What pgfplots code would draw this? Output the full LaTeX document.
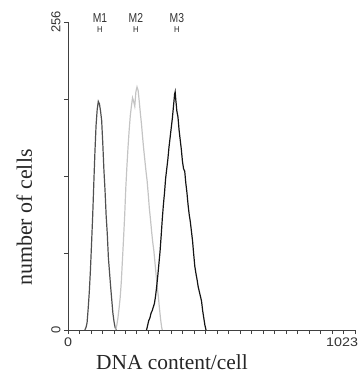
\documentclass[border=0pt]{standalone}
\usepackage{fontspec}
\setmainfont{Liberation Serif}
\newfontfamily\sansf{Liberation Sans}
\usepackage{pgfplots}
\usepackage{pgfplotstable}
\pgfplotsset{compat=1.18}

\pgfplotstableread{
x y
60 0
64 2
68 6
72 18
76 32
80 50
84 72
88 95
92 122
96 148
100 170
104 183
108 190
112 188
116 182
120 174
124 155
128 133
132 116
136 95
140 80
144 60
148 48
152 36
156 25
160 14
164 7
168 2
172 0
}\mone

\pgfplotstableread{
x y
170 0
174 4
178 10
182 18
186 27
190 40
194 58
198 76
202 95
206 118
210 136
214 152
218 166
222 178
226 186
230 193
234 190
238 186
242 198
246 202
250 199
254 190
258 180
262 171
266 160
270 150
274 141
278 132
282 124
286 113
290 101
294 92
298 82
302 73
306 66
310 56
314 46
318 36
322 28
326 18
330 9
334 2
336 0
}\mtwo

\pgfplotstableread{
x y
280 0
284 4
288 8
292 10
296 14
300 16
304 19
308 22
312 28
316 36
320 45
324 55
328 65
332 78
336 92
340 104
344 114
348 126
352 134
356 142
360 152
364 160
368 168
372 176
376 186
380 196
382 198
384 192
388 182
392 177
396 166
400 158
404 150
408 140
412 134
416 132
420 122
424 114
428 104
432 96
436 90
440 82
444 74
448 63
452 53
456 47
460 42
464 36
468 32
472 28
476 24
480 16
484 10
488 4
492 0
}\mthree

\definecolor{cone}{HTML}{505050}
\definecolor{ctwo}{HTML}{C4C4C4}
\definecolor{cthree}{HTML}{141414}

\begin{document}
\begin{tikzpicture}
\begin{axis}[
  scale only axis, width=287bp, height=308bp,
  xmin=0, xmax=1023, ymin=0, ymax=256,
  axis x line*=bottom, axis y line*=left,
  axis line style={draw=black!75, line width=0.8bp, -},
  /pgf/number format/assume math mode=true,
  xtick={0,1023},
  xticklabels={\scalebox{1.15}[1]{0},\makebox[0pt][r]{\scalebox{1.15}[1]{1023}\kern-3bp}},
  ytick={0,256},
  yticklabels={0,256},
  minor x tick num=24, minor y tick num=3,
  tick align=outside, major tick length=4bp, minor tick length=4bp,
  tick style={draw=black!75, line width=0.8bp},
  xticklabel style={font=\sansf\fontsize{12.5}{12.5}\selectfont, text=black!80},
  yticklabel style={font=\sansf\fontsize{13}{13}\selectfont, text=black!80, rotate=90, anchor=south},
  clip=false,
]
\addplot[cone, line width=1.2bp] table {\mone};
\addplot[ctwo, line width=1.2bp] table {\mtwo};
\addplot[cthree, line width=1.2bp] table {\mthree};

\node[font=\sansf\fontsize{13}{13}\selectfont, text=black!80] at (axis cs:114,259.3) {\scalebox{0.8}[1]{M1}};
\node[font=\sansf\fontsize{13}{13}\selectfont, text=black!80] at (axis cs:242,259.3) {\scalebox{0.8}[1]{M2}};
\node[font=\sansf\fontsize{13}{13}\selectfont, text=black!80] at (axis cs:388,259.3) {\scalebox{0.8}[1]{M3}};
\node[font=\sansf\fontsize{8.5}{8.5}\selectfont, text=black!85] at (axis cs:114,250) {\scalebox{0.9}[1]{H}};
\node[font=\sansf\fontsize{8.5}{8.5}\selectfont, text=black!85] at (axis cs:242,250) {\scalebox{0.9}[1]{H}};
\node[font=\sansf\fontsize{8.5}{8.5}\selectfont, text=black!85] at (axis cs:388,250) {\scalebox{0.9}[1]{H}};

\node[font=\fontsize{21.5}{21.5}\selectfont, anchor=base, inner sep=0pt, text=black!85] at ([shift={(104bp,-39bp)}]rel axis cs:0,0) {DNA content/cell};
\node[font=\fontsize{22}{22}\selectfont, anchor=base, rotate=90, inner sep=0pt, text=black!85] at ([shift={(-36bp,112.5bp)}]rel axis cs:0,0) {number of cells};

\coordinate (ll) at (rel axis cs:0,0);
\coordinate (ur) at (rel axis cs:1,1);
\end{axis}
\pgfresetboundingbox
\path ([shift={(-68bp,-43bp)}]ll) rectangle ([shift={(5bp,22bp)}]ur);
\end{tikzpicture}
\end{document}
